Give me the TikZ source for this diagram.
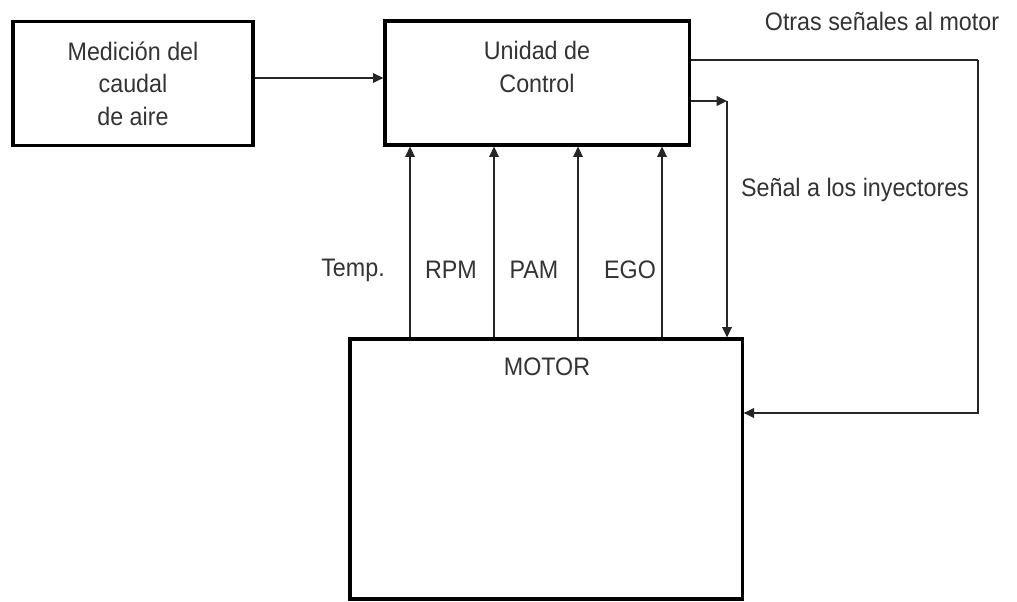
\documentclass[tikz,border=0pt]{standalone}
\usepackage{fontspec}
\setmainfont{Liberation Sans}[FakeStretch=0.92]
\usepackage{tikz}
\usetikzlibrary{arrows.meta, positioning, calc}

\begin{document}
\begin{tikzpicture}[
    x=0.025cm, y=-0.025cm,
    blk/.style={
        draw, line width=2.2pt, minimum width=#1, minimum height=3.1cm,
        inner sep=0pt, align=center
    },
    lbl/.style={
        font=\fontsize{18}{23}\selectfont, text=black!80, align=center, inner sep=0pt
    },
    arr/.style={-{Triangle[length=2.6mm, width=2.4mm]}, line width=1.3pt, color=black!85},
    wire/.style={line width=1.3pt, color=black!85}
]
\useasboundingbox (0, 0) rectangle (1017, 602);

% Blocks
\node[blk=6cm, lbl] (caudal) at (133, 83.5) {Medición del\\caudal\\de aire};
\node[blk=7.6cm] (ctrl) at (537, 83) {};
\node[lbl] (ctrltxt) at (537, 67) {Unidad de\\Control};
\node[blk=9.8cm, minimum height=6.5cm] (motor) at (546, 469) {};
\node[lbl] (motortxt) at (547, 367) {MOTOR};

% Sensor labels
\node[lbl] (temp) at (353, 270) {Temp.};
\node[lbl] (rpm) at (451, 270) {RPM};
\node[lbl] (pam) at (534, 270) {PAM};
\node[lbl] (ego) at (630, 270) {EGO};
\node[lbl] (otras) at (882, 21) {Otras señales al motor};
\node[lbl] (inyec) at (855, 190) {Señal a los inyectores};

% Corners
\coordinate (inyc) at (727, 101);
\coordinate (otrasc) at (978, 60);

% Arrows
\draw[arr] (caudal.east |- 0, 78) -- (ctrl.west |- 0, 78);
\foreach \sx in {410, 494, 578, 662}
    \draw[arr] (motor.north -| \sx, 0) -- (ctrl.south -| \sx, 0);
\draw[arr] (ctrl.east |- inyc) -- (inyc);
\draw[arr] (inyc) -- (motor.north -| inyc);
\draw[wire] (ctrl.east |- otrasc) -- (otrasc);
\draw[arr] (otrasc) |- (motor.east |- 0, 413);

\end{tikzpicture}
\end{document}
